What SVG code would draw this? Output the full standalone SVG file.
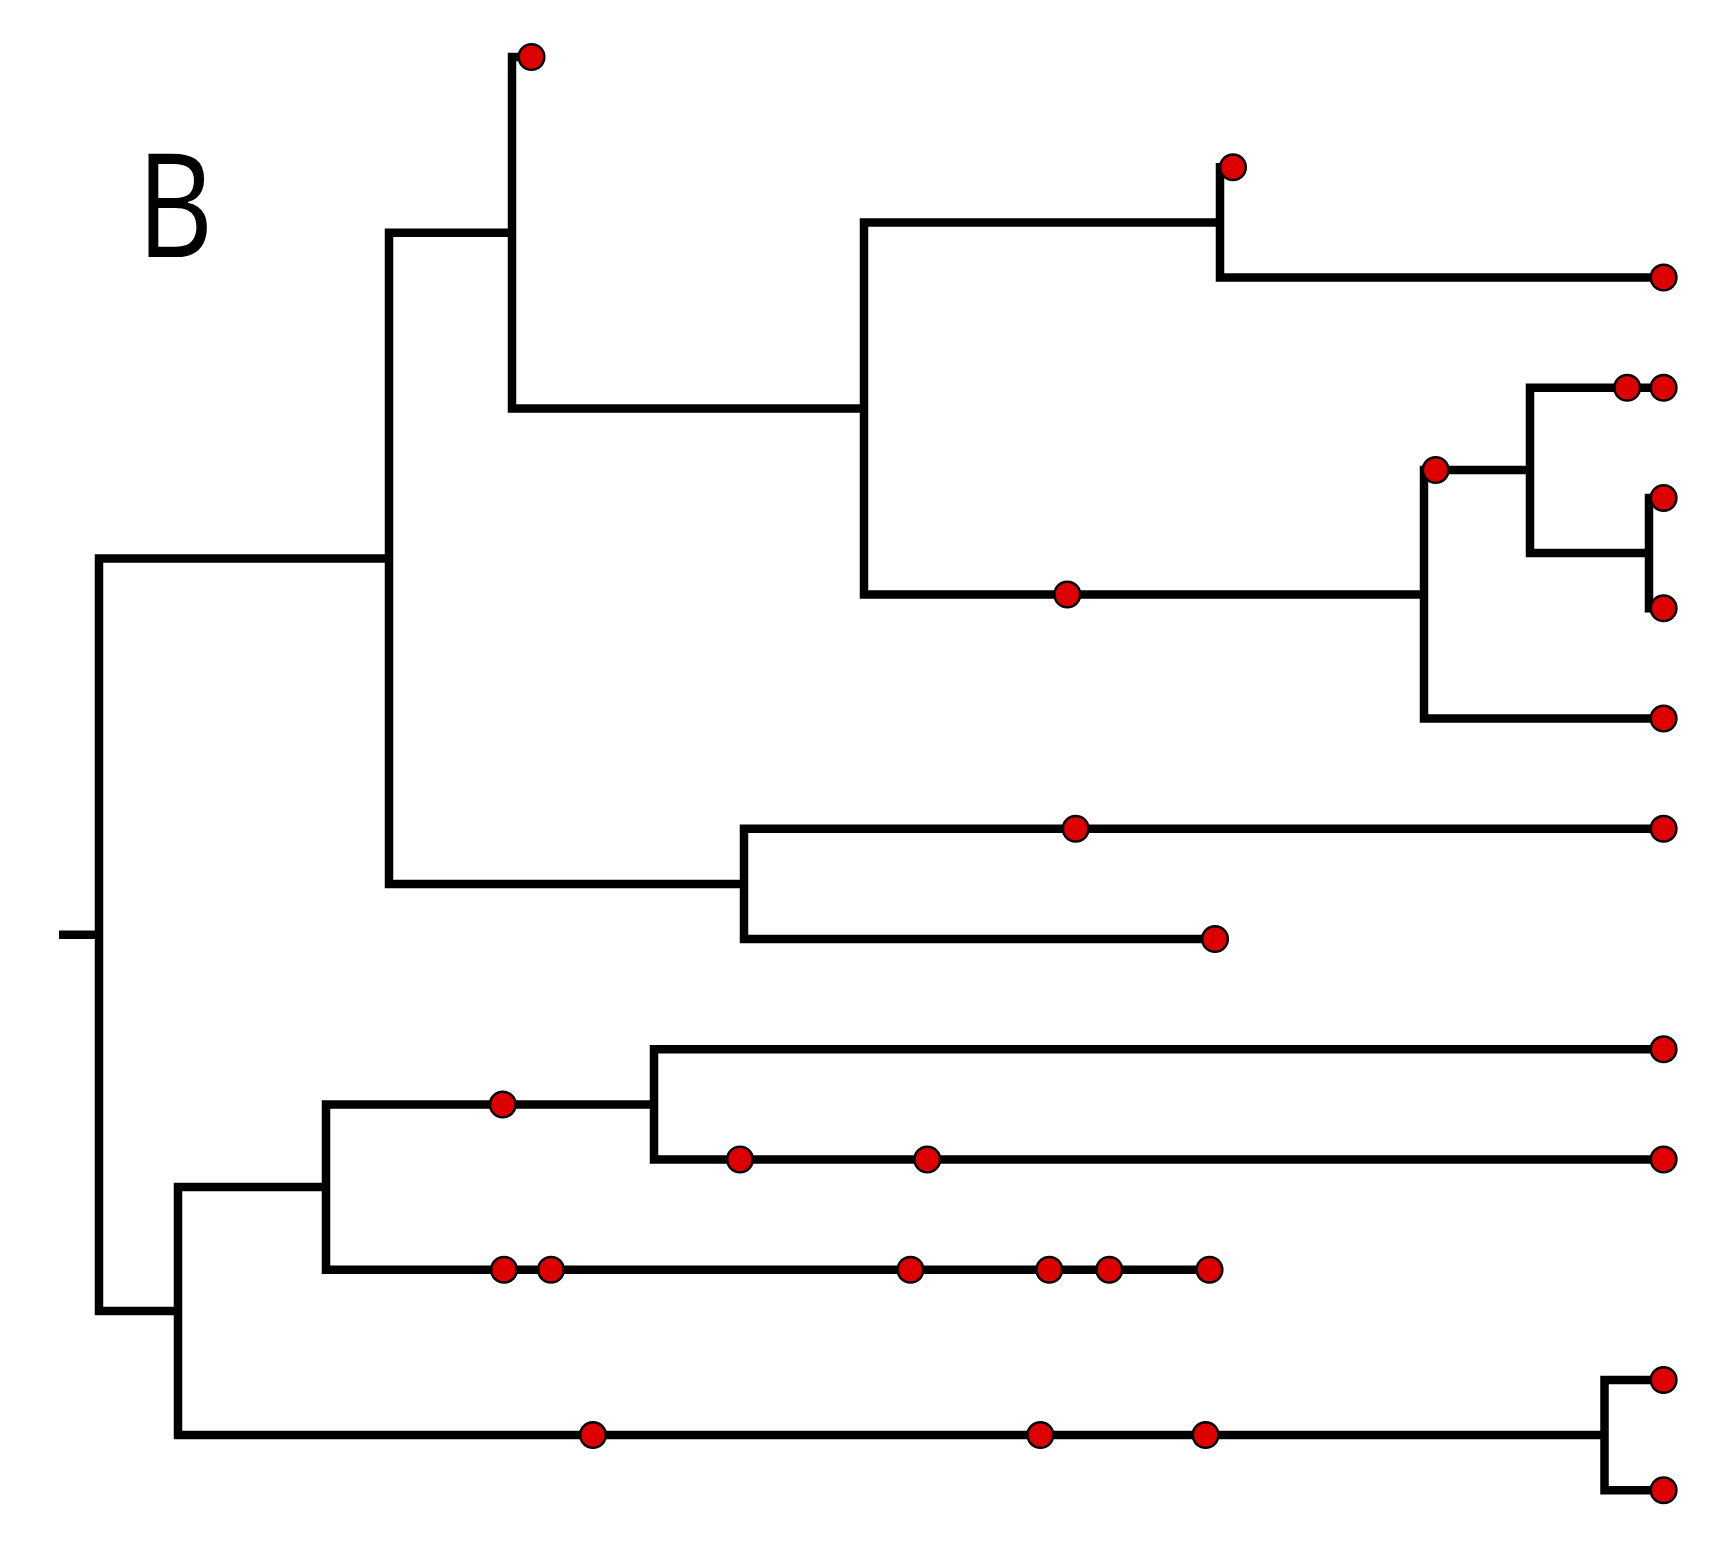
<svg xmlns="http://www.w3.org/2000/svg" width="1728" height="1548" viewBox="0 0 1728 1548">
<style>
.br{fill:none;stroke:#000;stroke-width:8.5;stroke-linejoin:miter;stroke-linecap:butt}
.d{fill:#dd0000;stroke:#000;stroke-width:2.5}
.lab{font-family:"Open Sans","Noto Sans",sans-serif;font-size:144px;fill:#000}
</style>
<rect width="1728" height="1548" fill="#fff"/>
<text class="lab" x="0" y="0" transform="translate(137,257) scale(0.82,1)">B</text>
<g id="connectors">
<path class="br" d="M59 934.7 H99"/>
<path class="br" d="M389 558.4 H99 V1311 H178"/>
<path class="br" d="M512 232.7 H389 V884 H744"/>
<path class="br" d="M531.5 57 H512 V408.5 H864"/>
<path class="br" d="M1220 222.5 H864 V594.5 H1424"/>
<path class="br" d="M1233 167.25 H1220 V277.5 H1663.6"/>
<path class="br" d="M1530 470 H1424 V718.5 H1663.6"/>
<path class="br" d="M1663.6 387.75 H1530 V553 H1649"/>
<path class="br" d="M1663.6 498 H1649 V608.25 H1663.6"/>
<path class="br" d="M1663.6 828.75 H744 V939 H1215"/>
<path class="br" d="M326 1187 H178 V1435 H1604.5"/>
<path class="br" d="M654 1104.5 H326 V1269.75 H1209.5"/>
<path class="br" d="M1663.6 1049.25 H654 V1159.5 H1663.6"/>
<path class="br" d="M1663.6 1380 H1604.5 V1490.25 H1663.6"/>
</g>
<g id="n1"><circle class="d" cx="531.5" cy="57" r="12.8"/></g>
<g id="n2"><circle class="d" cx="1233" cy="167.25" r="12.8"/></g>
<g id="n3"><circle class="d" cx="1663.6" cy="277.5" r="12.8"/></g>
<g id="n4"><circle class="d" cx="1627.2" cy="387.75" r="12.8"/><circle class="d" cx="1663.6" cy="387.75" r="12.8"/></g>
<g id="n5"><circle class="d" cx="1435.7" cy="470" r="12.8"/></g>
<g id="n6"><circle class="d" cx="1663.6" cy="498" r="12.8"/></g>
<g id="n7"><circle class="d" cx="1663.6" cy="608.25" r="12.8"/></g>
<g id="n8"><circle class="d" cx="1067.3" cy="594.5" r="12.8"/></g>
<g id="n9"><circle class="d" cx="1663.6" cy="718.5" r="12.8"/></g>
<g id="n10"><circle class="d" cx="1075.7" cy="828.75" r="12.8"/><circle class="d" cx="1663.6" cy="828.75" r="12.8"/></g>
<g id="n11"><circle class="d" cx="1215" cy="939" r="12.8"/></g>
<g id="n12"><circle class="d" cx="1663.6" cy="1049.25" r="12.8"/></g>
<g id="n13"><circle class="d" cx="740" cy="1159.5" r="12.8"/><circle class="d" cx="927.3" cy="1159.5" r="12.8"/><circle class="d" cx="1663.6" cy="1159.5" r="12.8"/></g>
<g id="n14"><circle class="d" cx="502.8" cy="1104.5" r="12.8"/></g>
<g id="n15"><circle class="d" cx="504" cy="1269.75" r="12.8"/><circle class="d" cx="551" cy="1269.75" r="12.8"/><circle class="d" cx="910.5" cy="1269.75" r="12.8"/><circle class="d" cx="1049.3" cy="1269.75" r="12.8"/><circle class="d" cx="1109.3" cy="1269.75" r="12.8"/><circle class="d" cx="1209.5" cy="1269.75" r="12.8"/></g>
<g id="n16"><circle class="d" cx="593" cy="1435" r="12.8"/><circle class="d" cx="1040.4" cy="1435" r="12.8"/><circle class="d" cx="1205.6" cy="1435" r="12.8"/></g>
<g id="n17"><circle class="d" cx="1663.6" cy="1380" r="12.8"/><circle class="d" cx="1663.6" cy="1490.25" r="12.8"/></g>
</svg>
